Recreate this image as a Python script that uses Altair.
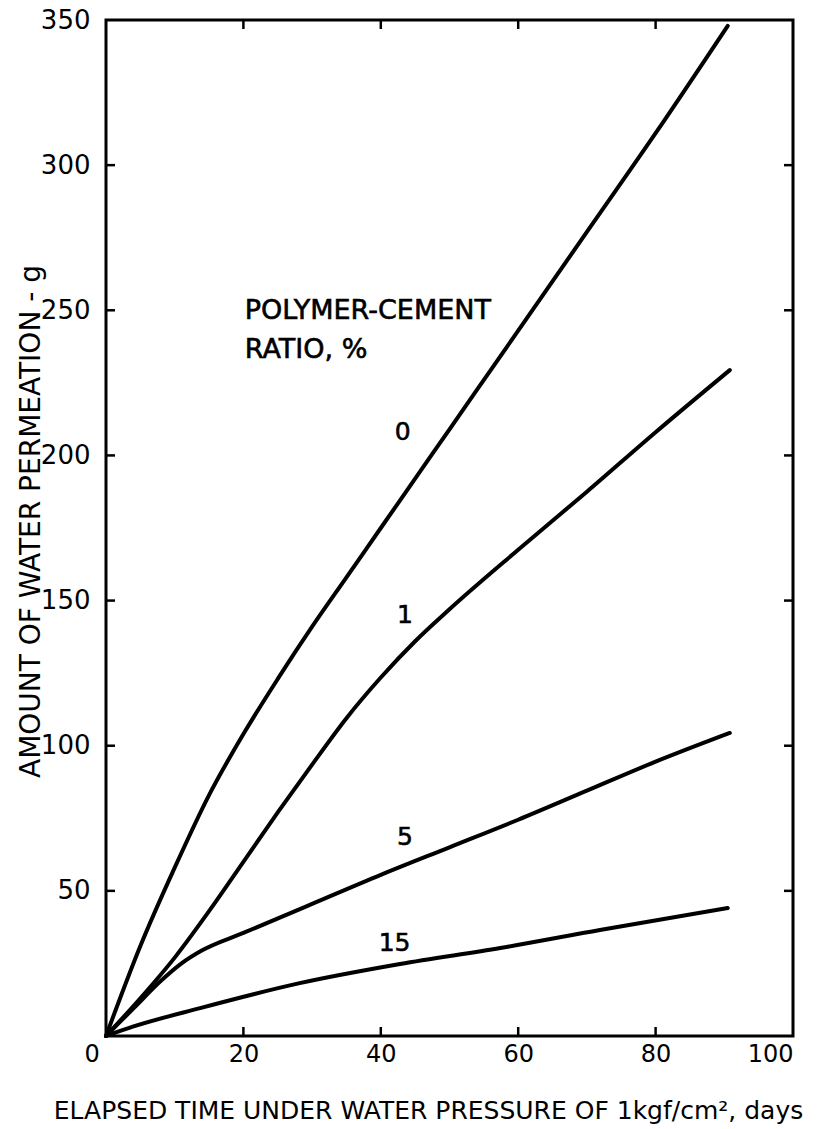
import altair as alt
import pandas as pd

# Elapsed time (days) and amount of water permeation (g) per polymer-cement ratio
t0 = [0, 5, 10, 15, 20, 25, 30, 35, 40, 45, 50, 60, 70, 80, 90.5]
v0 = [0, 31, 58, 83, 104, 123, 141, 158, 175, 192, 209, 243, 277, 311, 348]

t1 = [0, 5, 10, 15, 20, 25, 30, 35, 40, 45, 50, 60, 70, 80, 90.8]
v1 = [0, 13, 27, 43, 60, 77, 93.5, 109.5, 123.5, 136, 147, 167.5, 187.5, 208, 229.4]

t5 = [0, 4, 8, 11, 14, 20, 30, 40, 50, 60, 70, 80, 90.8]
v5 = [0, 9.5, 19, 25, 29.5, 35.5, 45.5, 55.5, 65, 74.5, 84.5, 94.5, 104.4]

t15 = [0, 3.9, 13.7, 28.2, 42.8, 57.4, 71.9, 90.5]
v15 = [0, 3.2, 9.6, 18.2, 24.8, 30.3, 36.5, 44.1]

series_names = ["0", "1", "5", "15"]
label_t = [43.2, 43.5, 43.5, 42.0]
label_v = [208, 145, 68.5, 32]

legend_lines = ["POLYMER-CEMENT", "RATIO, %"]
legend_t = [20.2, 20.2]
legend_v = [249.7, 236.3]

x_label_vals = [0, 20, 40, 60, 80, 100]
y_label_vals = [50, 100, 150, 200, 250, 300, 350]
x_tick_vals = [20, 40, 60, 80]
y_tick_vals = [50, 100, 150, 200, 250, 300]

rows = []
for name, ts, vs in zip(series_names, [t0, t1, t5, t15], [v0, v1, v5, v15]):
    for t, v in zip(ts, vs):
        rows.append({"series": name, "t": t, "v": v})
df = pd.DataFrame(rows)

labels_df = pd.DataFrame({"t": label_t, "v": label_v, "text": series_names})
legend_df = pd.DataFrame({"t": legend_t, "v": legend_v, "text": legend_lines})
xt_df = pd.DataFrame({"t": x_tick_vals})
yt_df = pd.DataFrame({"v": y_tick_vals})

W, H = 687, 1016
FONT = "DejaVu Sans"
xs = alt.Scale(domain=[0, 100], nice=False)
ys = alt.Scale(domain=[0, 350], nice=False)

x_axis = alt.Axis(
    values=x_label_vals, format="d", ticks=False, domain=False, grid=False,
    labelFont=FONT, labelFontSize=24, labelColor="black", labelPadding=6,
    labelOffset={"condition": {"test": "datum.value === 0", "value": -22}, "value": 0},
    title="ELAPSED TIME UNDER WATER PRESSURE OF 1kgf/cm², days",
    titleFont=FONT, titleFontSize=25, titleFontWeight="normal", titleColor="black",
    titleX=322, titleY=82, titleAlign="center", titleBaseline="alphabetic",
)
y_axis = alt.Axis(
    values=y_label_vals, format="d", ticks=False, domain=False, grid=False,
    labelFont=FONT, labelFontSize=26, labelColor="black", labelPadding=16,
    title="AMOUNT OF WATER PERMEATION  - g",
    titleFont=FONT, titleFontSize=28, titleFontWeight="normal", titleColor="black",
    titleX=-75, titleY=501, titleAlign="center", titleBaseline="middle", titleAngle=270,
)

lines = alt.Chart(df).mark_line(
    color="black", strokeWidth=4, interpolate="monotone", strokeCap="round"
).encode(
    x=alt.X("t:Q", scale=xs, axis=x_axis),
    y=alt.Y("v:Q", scale=ys, axis=y_axis),
    detail="series:N",
)

curve_labels = alt.Chart(labels_df).mark_text(
    font=FONT, fontSize=25, color="black", align="center", baseline="middle",
    stroke="black", strokeWidth=0.6
).encode(x=alt.X("t:Q", scale=xs), y=alt.Y("v:Q", scale=ys), text="text:N")

legend_text = alt.Chart(legend_df).mark_text(
    font=FONT, fontSize=27, color="black", align="left", baseline="middle",
    stroke="black", strokeWidth=0.6
).encode(x=alt.X("t:Q", scale=xs), y=alt.Y("v:Q", scale=ys), text="text:N")

tick_len = 9
bottom_ticks = alt.Chart(xt_df).mark_rule(color="black", strokeWidth=2.5).encode(
    x=alt.X("t:Q", scale=xs), y=alt.value(H), y2=alt.value(H - tick_len))
top_ticks = alt.Chart(xt_df).mark_rule(color="black", strokeWidth=2.5).encode(
    x=alt.X("t:Q", scale=xs), y=alt.value(0), y2=alt.value(tick_len))
left_ticks = alt.Chart(yt_df).mark_rule(color="black", strokeWidth=2.5).encode(
    y=alt.Y("v:Q", scale=ys), x=alt.value(0), x2=alt.value(tick_len))
right_ticks = alt.Chart(yt_df).mark_rule(color="black", strokeWidth=2.5).encode(
    y=alt.Y("v:Q", scale=ys), x=alt.value(W - tick_len), x2=alt.value(W))

chart = alt.layer(
    lines, bottom_ticks, top_ticks, left_ticks, right_ticks, curve_labels, legend_text
).properties(
    width=W, height=H,
    autosize=alt.AutoSizeParams(type="none"),
    padding={"left": 98, "top": 12, "right": 12, "bottom": 93},
    background="white",
).configure_view(stroke="black", strokeWidth=3)

chart.save("out.html", embed_options={"renderer": "svg", "actions": False})
